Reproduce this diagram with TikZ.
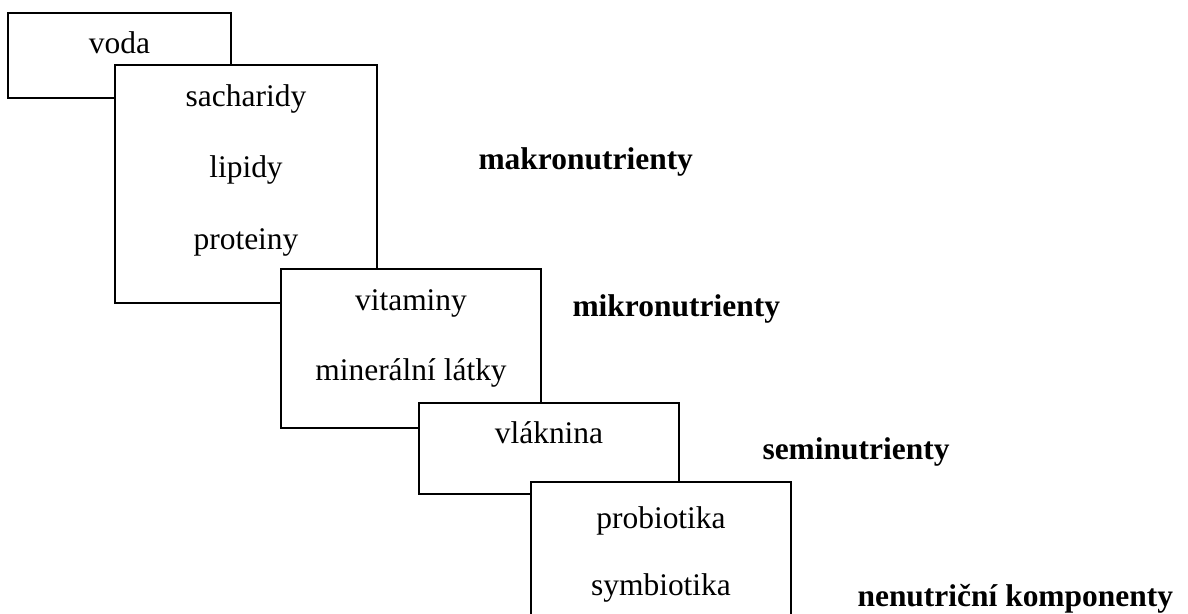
\documentclass[tikz,border=0pt]{standalone}
\usepackage{fontspec}
\setmainfont{Liberation Serif}
\usepackage{tikz}

\begin{document}
\begin{tikzpicture}[x=0.375pt, y=-0.375pt,
    font=\fontsize{11.8}{14}\selectfont,
    box/.style={draw, fill=white, line width=0.55pt, anchor=north west,
                inner sep=0pt, outer sep=0pt},
    item/.style={anchor=base, inner sep=0pt},
    group/.style={anchor=base west, inner sep=0pt,
                  font=\fontsize{11.8}{14}\selectfont\bfseries}]

    \useasboundingbox (0,0) rectangle (1188,613);
    \clip (0,0) rectangle (1188,613);

    % --- staircase of boxes (later ones cover earlier ones) -------------
    \node[box, minimum width=83.6pt, minimum height=31.9pt] (bvoda) at (8,13) {};
    \node[item] (voda) at (119.5,53) {voda};

    \node[box, minimum width=98.2pt, minimum height=89.2pt] (bmakro) at (115,65) {};
    \node[item] (sacharidy) at (246,106) {sacharidy};
    \node[item] (lipidy)    at (246,177) {lipidy};
    \node[item] (proteiny)  at (246,249) {proteiny};

    \node[box, minimum width=97.5pt, minimum height=59.6pt] (bmikro) at (281,269) {};
    \node[item] (vitaminy) at (411,310) {vitaminy};
    \node[item] (mineraly) at (411,380) {minerální látky};

    \node[box, minimum width=97.5pt, minimum height=34.1pt] (bsemi) at (419,403) {};
    \node[item] (vlaknina) at (549,443) {vláknina};

    \node[box, minimum width=97.5pt, minimum height=60pt] (bnenutri) at (531,482) {};
    \node[item] (probiotika) at (661,528) {probiotika};
    \node[item] (symbiotika) at (661,595) {symbiotika};

    % --- group labels ---------------------------------------------------
    \node[group] (makro)   at (478,169) {makronutrienty};
    \node[group] (mikro)   at (572,316) {mikronutrienty};
    \node[group] (semi)    at (762,459) {seminutrienty};
    \node[group] (nenutri) at (857,606) {nenutriční komponenty};
  \end{tikzpicture}
\end{document}
